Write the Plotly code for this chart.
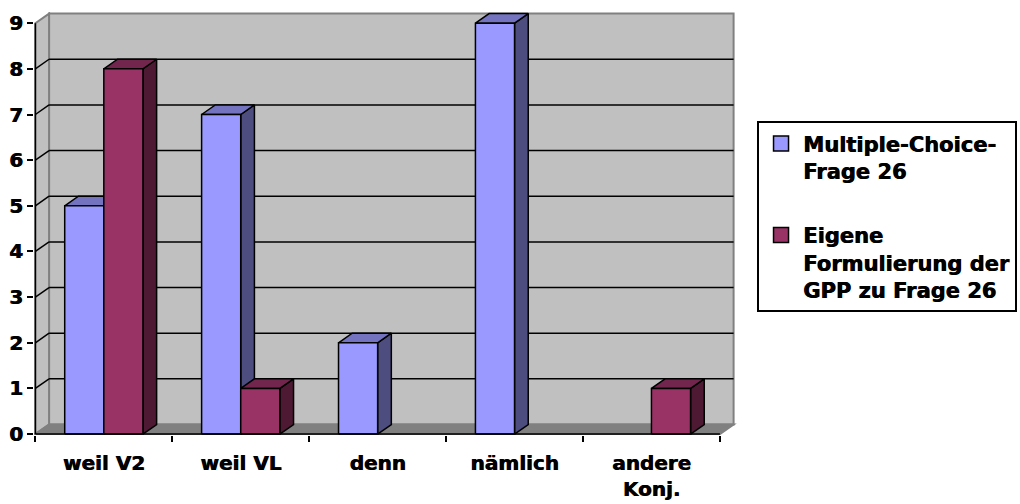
import plotly.graph_objects as go

# Chart data
categories = ["weil V2", "weil VL", "denn", "nämlich", "andere<br>Konj."]
multiple_choice = [5, 7, 2, 9, 0]
eigene_formulierung = [8, 1, 0, 0, 1]
series_names = ["Multiple-Choice-<br>Frage 26", "Eigene<br>Formulierung der<br>GPP zu Frage 26"]
y_ticks = list(range(10))

# Geometry of the pseudo-3D column chart (in data units)
BAR_W = 1 / 3.5          # column width, gap width 150 %
DX, DY = 0.1, 0.21       # depth offset of the back faces
YMAX = max(y_ticks)
X_LEFT, X_RIGHT = -0.5, len(categories) - 0.5

FONT = "DejaVu Sans"
HEAVY = "0.7px 0px 0px black"   # slight horizontal thickening of the bold text
face_colors = [
    dict(front="#9999FF", top="#7373BF", side="#4D4D80"),
    dict(front="#993366", top="#73264D", side="#4D1933"),
]


def face(xs, ys, color):
    return go.Scatter(
        x=xs + [xs[0]], y=ys + [ys[0]], mode="lines", fill="toself",
        fillcolor=color, line=dict(color="black", width=1.5),
        hoverinfo="skip", showlegend=False,
    )


fig = go.Figure()

# Columns: left to right, within each category first series then second
series_values = [multiple_choice, eigene_formulierung]
for i in range(len(categories)):
    for s, values in enumerate(series_values):
        v = values[i]
        if v <= 0:
            continue
        x0 = i - BAR_W + s * BAR_W
        x1 = x0 + BAR_W
        c = face_colors[s]
        fig.add_trace(face([x1, x1 + DX, x1 + DX, x1], [0, DY, v + DY, v], c["side"]))
        fig.add_trace(face([x0, x1, x1 + DX, x0 + DX], [v, v, v + DY, v + DY], c["top"]))
        fig.add_trace(face([x0, x1, x1, x0], [0, 0, v, v], c["front"]))

# Legend entries
for s, name in enumerate(series_names):
    fig.add_trace(go.Scatter(
        x=[None], y=[None], mode="markers", name=name, legendgroup=f"g{s}",
        marker=dict(symbol="square", size=15, color=face_colors[s]["front"],
                    line=dict(color="black", width=1.5)),
    ))

# Carrier trace for the category label axis
fig.add_trace(go.Scatter(x=[0], y=[-1], xaxis="x2", mode="markers",
                         marker=dict(opacity=0), hoverinfo="skip", showlegend=False))

# Walls, floor and gridlines
shapes = []
wall_edge = dict(color="#808080", width=2)


def path(points):
    return "M " + " L ".join(f"{x},{y}" for x, y in points) + " Z"


shapes.append(dict(type="path", layer="below", fillcolor="#C0C0C0", line=wall_edge,
                   path=path([(X_LEFT + DX, DY), (X_RIGHT + DX, DY),
                              (X_RIGHT + DX, YMAX + DY), (X_LEFT + DX, YMAX + DY)])))
shapes.append(dict(type="path", layer="below", fillcolor="#C0C0C0", line=wall_edge,
                   path=path([(X_LEFT, 0), (X_LEFT + DX, DY),
                              (X_LEFT + DX, YMAX + DY), (X_LEFT, YMAX)])))
shapes.append(dict(type="path", layer="below", fillcolor="#808080", line=wall_edge,
                   path=path([(X_LEFT, 0), (X_RIGHT, 0), (X_RIGHT + DX, DY), (X_LEFT + DX, DY)])))
for t in y_ticks[1:-1]:
    shapes.append(dict(type="line", layer="below", line=dict(color="black", width=1.5),
                       x0=X_LEFT, y0=t, x1=X_LEFT + DX, y1=t + DY))
    shapes.append(dict(type="line", layer="below", line=dict(color="black", width=1.5),
                       x0=X_LEFT + DX, y0=t + DY, x1=X_RIGHT + DX, y1=t + DY))
# Front axis lines
shapes.append(dict(type="line", layer="above", line=dict(color="black", width=1.5),
                   x0=X_LEFT, y0=0, x1=X_LEFT, y1=YMAX))
shapes.append(dict(type="line", layer="above", line=dict(color="black", width=1.5),
                   x0=X_LEFT, y0=0, x1=X_RIGHT, y1=0))

# The plotting area spans the full width; the legend sits in its empty right part
x_range = [X_LEFT - 0.01, 6.692]
tick_font = dict(family=FONT, size=20, color="black", weight="bold", shadow=HEAVY)

fig.update_layout(
    width=1020, height=504,
    margin=dict(l=34, r=0, t=12, b=69),
    paper_bgcolor="white", plot_bgcolor="white",
    shapes=shapes,
    xaxis=dict(range=x_range, tickvals=[i - 0.5 for i in range(len(categories) + 1)],
               showticklabels=False, ticks="outside", ticklen=6, tickwidth=1.5,
               tickcolor="black", showgrid=False, zeroline=False, showline=False,
               automargin=False),
    xaxis2=dict(range=x_range, overlaying="x", anchor="y", side="bottom",
                tickvals=list(range(len(categories))), ticktext=categories,
                ticks="", tickfont=tick_font, ticklabelstandoff=14,
                showgrid=False, zeroline=False, showline=False, automargin=False),
    yaxis=dict(range=[-0.02, YMAX + DY + 0.035], tickvals=y_ticks,
               ticks="outside", ticklen=6, tickwidth=1.5, tickcolor="black",
               tickfont=tick_font, showgrid=False, zeroline=False, showline=False,
               automargin=False),
    legend=dict(x=0.7333, y=0.7415, xanchor="left", yanchor="top",
                bordercolor="black", borderwidth=2, bgcolor="white",
                font=dict(family=FONT, size=21, color="black", weight="bold", shadow=HEAVY),
                valign="top", tracegroupgap=34, itemwidth=34,
                itemclick=False, itemdoubleclick=False),
    showlegend=True,
)

fig.write_html("out.html")
